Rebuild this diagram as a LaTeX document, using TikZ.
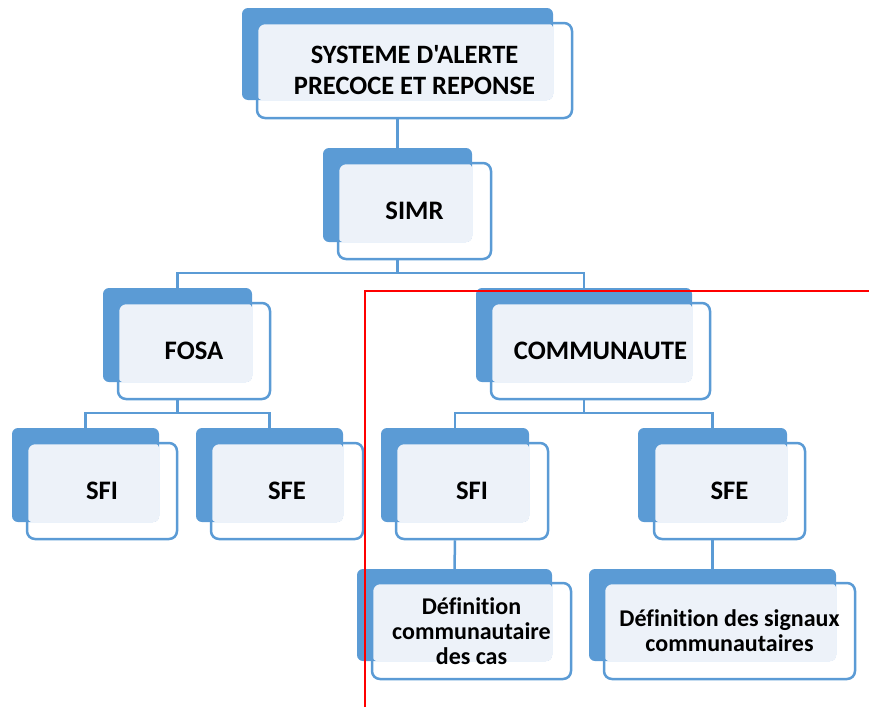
\documentclass[tikz,border=0pt]{standalone}
\usepackage{fontspec}
\setmainfont{Carlito}[Ligatures={TeXOff,NoCommon}]
\usetikzlibrary{fit}
\definecolor{obl}{HTML}{5B9BD5}
\definecolor{olt}{HTML}{EDF2F9}
\tikzset{
  backbox/.style={fill=obl, draw=none, rounded corners=6pt, inner sep=0pt},
  lightfill/.style={fill=olt, rounded corners=6pt},
  frontbox/.style={draw=obl, line width=2.5pt, rounded corners=8pt, inner sep=0pt, align=center, font=\bfseries},
  big/.style={font=\fontsize{26.7}{31}\selectfont\bfseries},
  med/.style={font=\fontsize{26.5}{31}\selectfont\bfseries},
  small/.style={font=\fontsize{24}{25}\selectfont\bfseries},
  conn/.style={draw=obl, line width=2.5pt},
  redline/.style={draw=red, line width=2pt}
}
% #1 name, #2 back nw, #3 back se, #4 front nw, #5 front se, #6 style, #7 text
\newcommand\orgbox[7]{%
  \node[backbox, fit={#2 #3}] (#1b) {};
  \fill[lightfill] #4 rectangle (#1b.south east);
  \node[frontbox, fit={#4 #5}] (#1f) {};
  \node[#6, align=center] (#1) at (#1f.center) {#7};
}
\begin{document}
\begin{tikzpicture}[x=1pt,y=-1pt]
\useasboundingbox (0,0) rectangle (869,707);
\orgbox{top}{(242,8)}{(553,100)}{(257,23)}{(572,118)}{med}{SYSTEME D'ALERTE\\PRECOCE ET REPONSE}
\orgbox{simr}{(323,148)}{(472,242)}{(338,163)}{(491,259)}{big}{SIMR}
\orgbox{fosa}{(103,288)}{(252,382)}{(118,303)}{(270,399)}{big}{FOSA}
\orgbox{comm}{(476,288)}{(692,382)}{(491,303)}{(710,399)}{big}{COMMUNAUTE}
\orgbox{sfia}{(12,428)}{(159,522)}{(27,443)}{(177,539)}{big}{SFI}
\orgbox{sfea}{(196,428)}{(343,522)}{(211,443)}{(363,539)}{big}{SFE}
\orgbox{sfib}{(381,428)}{(529,522)}{(396,443)}{(548,539)}{big}{SFI}
\orgbox{sfeb}{(638,428)}{(787,522)}{(654,443)}{(805,539)}{big}{SFE}
\orgbox{defc}{(357,569)}{(552,661)}{(372,583)}{(571,679)}{small}{Définition\\communautaire\\des cas}
\orgbox{defs}{(589,569)}{(836,661)}{(604,583)}{(855,679)}{small}{Définition des signaux\\communautaires}
\coordinate (bus1) at (0,273);
\coordinate (bus2) at (0,413);
% connectors
\draw[conn] (topb.center |- topf.south) -- (simrb.north);
\draw[conn] (simrb.center |- simrf.south) -- (simrb.center |- bus1) -| (fosab.north);
\draw[conn] (simrb.center |- bus1) -| (commb.north);
\draw[conn] (fosab.center |- fosaf.south) -- (fosab.center |- bus2) -| (sfiab.north);
\draw[conn] (fosab.center |- bus2) -| (sfeab.north);
\draw[conn] (commb.center |- commf.south) -- (commb.center |- bus2) -| (sfibb.north);
\draw[conn] (commb.center |- bus2) -| (sfebb.north);
\draw[conn] (sfibb.center |- sfibf.south) -- (defcb.north);
\draw[conn] (sfebb.center |- sfebf.south) -- (defsb.north);
% red frame
\coordinate (rc) at (365,291);
\draw[redline] (365,707) -- (rc) -- (869,291);
\end{tikzpicture}
\end{document}
